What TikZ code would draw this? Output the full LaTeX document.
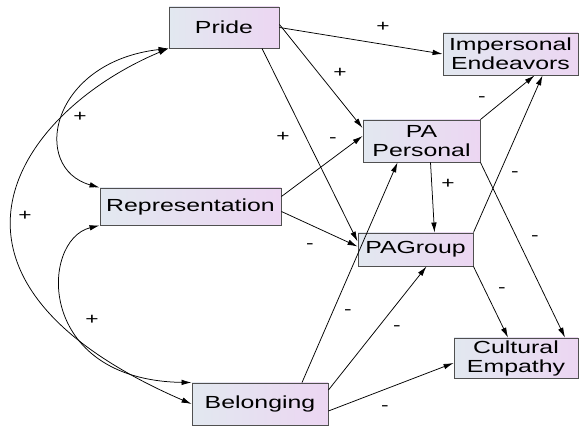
\documentclass[tikz,border=0pt]{standalone}
\usepackage{fontspec}
\setmainfont{Liberation Sans}
\usetikzlibrary{arrows.meta,calc}
\definecolor{boxleft}{RGB}{226,232,240}
\definecolor{boxright}{RGB}{236,214,242}
\definecolor{boxline}{RGB}{80,80,80}
\newcommand{\wtxt}[1]{\scalebox{1.42}[1]{#1}}
\tikzstyle{var}=[rectangle,draw=boxline,line width=0.9pt,left color=boxleft,right color=boxright,font=\fontsize{17.5}{19}\selectfont,align=center,inner sep=0pt]
\tikzstyle{sign}=[font=\fontsize{16}{16}\selectfont,inner sep=0pt]
\tikzstyle{link}=[-{Latex[length=10pt,width=5.5pt]},line width=0.75pt]
\tikzstyle{corr}=[{Latex[length=10pt,width=5.5pt]}-{Latex[length=10pt,width=5.5pt]},line width=0.75pt]

\begin{document}
\begin{tikzpicture}[x=1pt,y=1pt]

      \useasboundingbox (0,0) rectangle (580,427);

      \node (pride) at (224,399.5) [var,minimum width=110,minimum height=41] {\wtxt{Pride}};
      \node (impers) at (510.5,373) [var,minimum width=135,minimum height=42] {\wtxt{Impersonal}\\\wtxt{Endeavors}};
      \node (paper) at (421.5,286) [var,minimum width=117,minimum height=42] {\wtxt{PA}\\\wtxt{Personal}};
      \node (repr) at (190.5,220.5) [var,minimum width=181,minimum height=37] {\wtxt{Representation}};
      \node (pagrp) at (415.5,177.5) [var,minimum width=115,minimum height=33] {\wtxt{PAGroup}};
      \node (cult) at (516,69) [var,minimum width=124,minimum height=40] {\wtxt{Cultural}\\\wtxt{Empathy}};
      \node (belong) at (260,23) [var,minimum width=136,minimum height=42] {\wtxt{Belonging}};

      % paths
      \draw[link] (pride.east) -- (impers.west);
      \draw[link] ([yshift=3]pride.east) -- ([yshift=13]paper.west);
      \draw[link] ([xshift=38]pride.south) -- ([yshift=8]pagrp.west);
      \draw[link] ([yshift=10]repr.east) -- ([yshift=5]paper.west);
      \draw[link] ([yshift=-5]repr.east) -- ([yshift=3]pagrp.west);
      \draw[link] (paper.north east) -- ([xshift=24]impers.south);
      \draw[link] ([xshift=9]paper.south) -- ([xshift=19]pagrp.north);
      \draw[link] (paper.south east) -- ([xshift=49]cult.north);
      \draw[link] (pagrp.north east) -- ([xshift=32]impers.south);
      \draw[link] (pagrp.south east) -- ([xshift=-8]cult.north);
      \draw[link] ([xshift=42]belong.north) -- ([xshift=-24]paper.south);
      \draw[link] ([yshift=14]belong.east) -- ([xshift=11]pagrp.south);
      \draw[link] ([yshift=-7]belong.east) -- ([yshift=-5]cult.west);

      % correlations
      \draw[corr] (pride.south west) .. controls (50,365) and (30,259) .. (repr.north west);
      \draw[corr] (pride.south west) .. controls (17,315) and (-99,149) .. (belong.west);
      \draw[corr] (repr.south west) .. controls (40,187) and (35,47) .. (belong.north west);

      % signs
      \node (s1) at (383,400) [sign] {\wtxt{+}};
      \node (s2) at (340,354) [sign] {\wtxt{+}};
      \node (s3) at (283,290) [sign] {\wtxt{+}};
      \node (s4) at (333,287) [sign] {\wtxt{-}};
      \node (s5) at (310,181) [sign] {\wtxt{-}};
      \node (s6) at (482,328) [sign] {\wtxt{-}};
      \node (s7) at (448,243) [sign] {\wtxt{+}};
      \node (s8) at (515,253) [sign] {\wtxt{-}};
      \node (s9) at (535,189) [sign] {\wtxt{-}};
      \node (s10) at (502,137) [sign] {\wtxt{-}};
      \node (s11) at (348,115) [sign] {\wtxt{-}};
      \node (s12) at (397,99) [sign] {\wtxt{-}};
      \node (s13) at (385,19) [sign] {\wtxt{-}};
      \node (s14) at (80,310) [sign] {\wtxt{+}};
      \node (s15) at (25,211) [sign] {\wtxt{+}};
      \node (s16) at (92,107) [sign] {\wtxt{+}};

\end{tikzpicture}
\end{document}
